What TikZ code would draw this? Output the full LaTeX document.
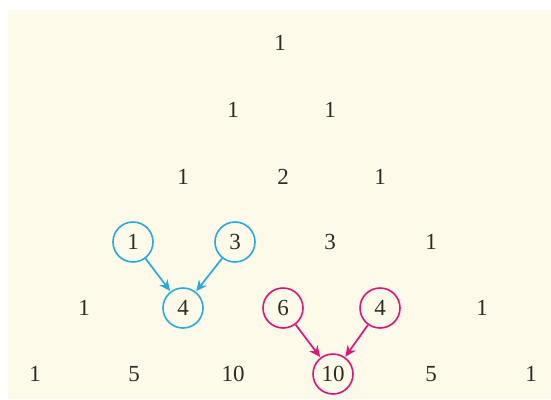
\documentclass[tikz,border=0pt]{standalone}
\usepackage{fontspec}
\setmainfont{Liberation Serif}
\usetikzlibrary{arrows.meta}
\definecolor{cream}{RGB}{254,250,233}
\definecolor{numtext}{RGB}{45,45,40}
\definecolor{cblue}{RGB}{40,170,225}
\definecolor{cmag}{RGB}{225,20,120}
\begin{document}
\begin{tikzpicture}[x=1pt,y=-1pt,
  num/.style={text=numtext,font=\fontsize{23}{23}\selectfont,inner sep=0pt,minimum size=40pt,circle},
  bcirc/.style={num,draw=cblue,line width=1.6pt},
  mcirc/.style={num,draw=cmag,line width=1.6pt},
  barrow/.style={draw=cblue,line width=1.7pt,-{Stealth[length=11pt,width=10pt]},shorten >=0.5pt},
  marrow/.style={draw=cmag,line width=1.7pt,-{Stealth[length=11pt,width=10pt]},shorten >=0.5pt}]
\useasboundingbox (0,0) rectangle (551,399);
\fill[white] (0,0) rectangle (551,399);
\fill[cream] (8,10) rectangle (551,399);
% row 0
\node[num] (r0a) at (280,43) {1};
% row 1
\node[num] (r1a) at (233,110) {1};
\node[num] (r1b) at (330,110) {1};
% row 2
\node[num] (r2a) at (183,177) {1};
\node[num] (r2b) at (283,177) {2};
\node[num] (r2c) at (380,177) {1};
% row 3
\node[bcirc] (r3a) at (133,242) {1};
\node[bcirc] (r3b) at (235,242) {3};
\node[num] (r3c) at (330,242) {3};
\node[num] (r3d) at (431,242) {1};
% row 4
\node[num] (r4a) at (84,308) {1};
\node[bcirc] (r4b) at (183,308) {4};
\node[mcirc] (r4c) at (283,308) {6};
\node[mcirc] (r4d) at (380,308) {4};
\node[num] (r4e) at (482,308) {1};
% row 5
\node[num] (r5a) at (35,374) {1};
\node[num] (r5b) at (134,374) {5};
\node[num] (r5c) at (233,374) {10};
\node[mcirc] (r5d) at (333,374) {10};
\node[num] (r5e) at (431,374) {5};
\node[num] (r5f) at (531,374) {1};
% arrows
\draw[barrow] (r3a) -- (r4b);
\draw[barrow] (r3b) -- (r4b);
\draw[marrow] (r4c) -- (r5d);
\draw[marrow] (r4d) -- (r5d);
\end{tikzpicture}
\end{document}
